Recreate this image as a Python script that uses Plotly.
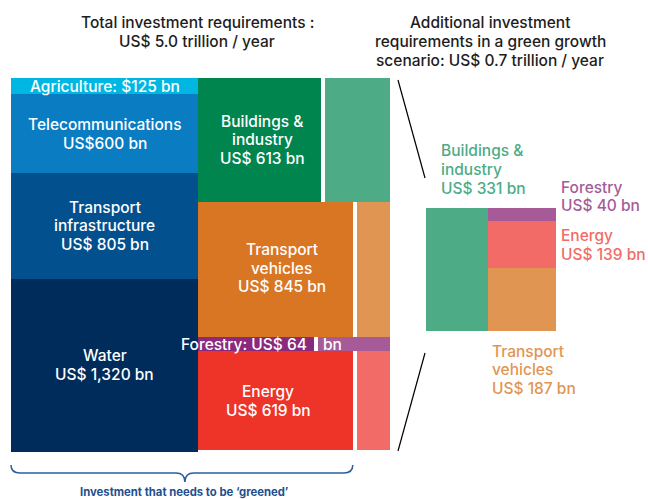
import plotly.graph_objects as go

# ---------------- Data (US$ bn per year) ----------------
col1_names = ["Agriculture", "Telecommunications", "Transport infrastructure", "Water"]
col1_values = [125, 600, 805, 1320]
col1_labels = ["Agriculture: $125 bn", "Telecommunications<br>US$600 bn",
               "Transport<br>infrastructure<br>US$ 805 bn", "Water<br>US$ 1,320 bn"]

col2_names = ["Buildings & industry", "Transport vehicles", "Forestry", "Energy"]
col2_base = [613, 845, 64, 619]          # investment that needs to be greened
col2_additional = [331, 187, 40, 139]    # additional green-growth investment
col2_labels = ["Buildings &<br>industry<br>US$ 613 bn", "Transport<br>vehicles<br>US$ 845 bn",
               "Forestry: US$ 64", "Energy<br>US$ 619 bn"]
add_labels = ["Buildings &<br>industry<br>US$ 331 bn", "Transport<br>vehicles<br>US$ 187 bn",
              "Forestry<br>US$ 40 bn", "Energy<br>US$ 139 bn"]

header_left = ["Total investment requirements :", "US$ 5.0 trillion / year"]
header_right = ["Additional investment", "requirements in a green growth",
                "scenario: US$ 0.7 trillion / year"]
footer = "Investment that needs to be \u2018greened\u2019"

# ---------------- Styles ----------------
col1_colors = ["#00b7e3", "#0a7cc2", "#03508f", "#002c5b"]
dark_colors = ["#00854f", "#d97623", "#8b2a7d", "#ee3428"]
light_colors = ["#4dac86", "#e19553", "#a65b98", "#f36b66"]
FONT = "Inter, Liberation Sans, Arial, sans-serif"
WEIGHT = 500

# ---------------- Layout geometry (window-pixel units) ----------------
TOP, HEIGHT = 78, 374
X1, W1 = 11, 187
X2, W2 = 198, 192
GAP = 4
SX, SY, SW, SH = 426, 208, 130, 123
LINE = 18.8
label_dx = [3, 6, 0, -7]
label_dy = [0, -1.5, 0, 0]

scale = HEIGHT / sum(col1_values)

fig = go.Figure()
annotations = []


def add_lines(text, x, yc, color, size=15.5, xanchor="center", weight=WEIGHT):
    lines = text.split("<br>")
    n = len(lines)
    for i, ln in enumerate(lines):
        y = yc + (i - (n - 1) / 2) * LINE
        annotations.append(dict(x=x, y=y, xref="x", yref="y", text=ln, showarrow=False,
                                xanchor=xanchor, yanchor="middle",
                                font=dict(family=FONT, size=size, color=color, weight=weight)))


# Column 1
tops, heights = [], []
acc = TOP
for v in col1_values:
    h = v * scale
    tops.append(acc)
    heights.append(h)
    acc += h
fig.add_trace(go.Bar(x=[X1 + W1 / 2] * 4, y=heights, base=tops, width=[W1] * 4,
                     marker=dict(color=col1_colors, line=dict(width=0)),
                     hoverinfo="skip", showlegend=False))
for lab, t, h in zip(col1_labels, tops, heights):
    add_lines(lab, X1 + W1 / 2, t + h / 2, "white")

# Column 2: base (dark) and additional (light) parts
tops2, heights2, splits = [], [], []
acc = TOP
for b, a in zip(col2_base, col2_additional):
    h = (b + a) * scale
    tops2.append(acc)
    heights2.append(h)
    splits.append(X2 + b / (b + a) * W2)
    acc += h
dark_l = [X2] * 4
dark_r = [s - GAP / 2 for s in splits]
light_l = [s + GAP / 2 for s in splits]
light_r = [X2 + W2] * 4
fig.add_trace(go.Bar(x=[(l + r) / 2 for l, r in zip(dark_l, dark_r)], y=heights2, base=tops2,
                     width=[r - l for l, r in zip(dark_l, dark_r)],
                     marker=dict(color=dark_colors, line=dict(width=0)),
                     hoverinfo="skip", showlegend=False))
fig.add_trace(go.Bar(x=[(l + r) / 2 for l, r in zip(light_l, light_r)], y=heights2, base=tops2,
                     width=[r - l for l, r in zip(light_l, light_r)],
                     marker=dict(color=light_colors, line=dict(width=0)),
                     hoverinfo="skip", showlegend=False))
for i, lab in enumerate(col2_labels):
    yc = tops2[i] + heights2[i] / 2 + label_dy[i]
    if col2_names[i] == "Forestry":
        add_lines(lab, dark_r[i] - 5, yc, "white", xanchor="right")
        add_lines("bn", light_l[i] + 3, yc, "white", xanchor="left")
    else:
        add_lines(lab, (dark_l[i] + dark_r[i]) / 2 + label_dx[i], yc, "white")

# Small treemap of additional investment
total_add = sum(col2_additional)
idx_b = col2_names.index("Buildings & industry")
bw = col2_additional[idx_b] / total_add * SW
right_order = ["Forestry", "Energy", "Transport vehicles"]
right_total = sum(col2_additional[col2_names.index(n)] for n in right_order)
sx_list, sw_list, st_list, sh_list, sc_list = [SX + bw / 2], [bw], [SY], [SH], [light_colors[idx_b]]
acc = SY
cells = {}
for n in right_order:
    i = col2_names.index(n)
    h = col2_additional[i] / right_total * SH
    sx_list.append(SX + bw + (SW - bw) / 2)
    sw_list.append(SW - bw)
    st_list.append(acc)
    sh_list.append(h)
    sc_list.append(light_colors[i])
    cells[n] = (acc, h)
    acc += h
fig.add_trace(go.Bar(x=sx_list, y=sh_list, base=st_list, width=sw_list,
                     marker=dict(color=sc_list, line=dict(width=0)),
                     hoverinfo="skip", showlegend=False))

# Labels of the small treemap
add_lines(add_labels[0], SX + 13, SY - 20 - LINE, light_colors[0], xanchor="left")
i_f = col2_names.index("Forestry")
add_lines(add_labels[i_f], SX + SW + 3, SY - 11.5, light_colors[i_f], xanchor="left")
i_e = col2_names.index("Energy")
et, eh = cells["Energy"]
add_lines(add_labels[i_e], SX + SW + 3, et + eh / 2, light_colors[i_e], xanchor="left")
i_t = col2_names.index("Transport vehicles")
add_lines(add_labels[i_t], SX + bw + 2, SY + SH + 20 + LINE, light_colors[i_t], xanchor="left")

# Connector lines
xa = X2 + W2 + 8
fig.add_trace(go.Scatter(x=[xa, SX - 1], y=[TOP + 2, SY - 30], mode="lines",
                         line=dict(color="black", width=1.2), hoverinfo="skip", showlegend=False))
fig.add_trace(go.Scatter(x=[SX - 1, xa], y=[SY + SH + 22, TOP + HEIGHT - 1], mode="lines",
                         line=dict(color="black", width=1.2), hoverinfo="skip", showlegend=False))

# Headers
for i, t in enumerate(header_left):
    annotations.append(dict(x=197, y=22 + i * 19, xref="x", yref="y", text=t, showarrow=False,
                            xanchor="center", yanchor="middle",
                            font=dict(family=FONT, size=15.5, color="#1d1d1d", weight=WEIGHT)))
for i, t in enumerate(header_right):
    annotations.append(dict(x=490, y=22 + i * 19, xref="x", yref="y", text=t, showarrow=False,
                            xanchor="center", yanchor="middle",
                            font=dict(family=FONT, size=15.5, color="#1d1d1d", weight=WEIGHT)))

# Brace under the base investment
bx0 = X1
bx1 = dark_r[-1]
bxc = (bx0 + bx1) / 2 + 3
yt, ym, yp = TOP + HEIGHT + 13, TOP + HEIGHT + 21, TOP + HEIGHT + 30
brace = (f"M {bx0},{yt} Q {bx0},{ym} {bx0+9},{ym} L {bxc-9},{ym} Q {bxc},{ym} {bxc},{yp} "
         f"Q {bxc},{ym} {bxc+9},{ym} L {bx1-9},{ym} Q {bx1},{ym} {bx1},{yt}")
fig.add_shape(type="path", path=brace, xref="x", yref="y",
              line=dict(color="#2c5d9c", width=1.5))
annotations.append(dict(x=bxc, y=TOP + HEIGHT + 40, xref="x", yref="y", text=footer,
                        showarrow=False, xanchor="center", yanchor="middle",
                        font=dict(family=FONT, size=11.3, color="#1f4f8f", weight="bold")))

fig.update_layout(
    width=648, height=499,
    margin=dict(l=0, r=0, t=0, b=0),
    paper_bgcolor="white", plot_bgcolor="white",
    barmode="overlay", bargap=0,
    xaxis=dict(range=[0, 648], visible=False, fixedrange=True),
    yaxis=dict(range=[499, 0], visible=False, fixedrange=True),
    annotations=annotations,
    showlegend=False,
)

fig.write_html("out.html", config={"displayModeBar": False},
               post_script="document.body.style.margin='0';document.body.style.overflow='hidden';")
